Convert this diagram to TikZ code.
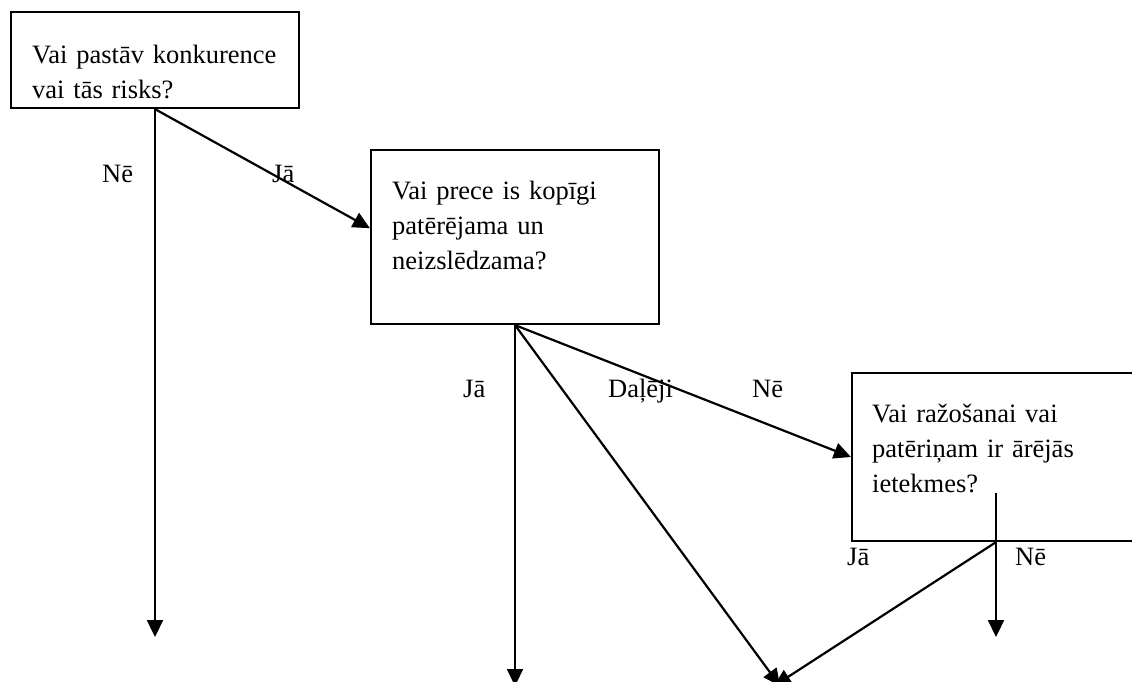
\documentclass[tikz,border=0pt]{standalone}
\usepackage{fontspec}
\setmainfont{Liberation Serif}
\usetikzlibrary{arrows.meta,calc}
\begin{document}
\begin{tikzpicture}[x=1pt,y=-1pt,
  box/.style={draw,line width=2.2pt,minimum width=288pt,inner sep=0pt},
  qtext/.style={anchor=base west,inner sep=0pt,text width=270pt,align=left,font=\fontsize{26.5}{35}\selectfont},
  lab/.style={anchor=base west,inner sep=0pt,font=\fontsize{26.5}{35}\selectfont},
  arr/.style={line width=2.2pt,-{Triangle[length=17pt,width=16pt]}},
  ln/.style={line width=2.2pt}]
\clip (0,0) rectangle (1132,681);
\fill[white] (0,0) rectangle (1132,681);
% boxes
\node[box,minimum height=96pt] (b1) at (155,60) {};
\node[box,minimum height=174pt] (b2) at (515,237) {};
\node[box,minimum height=168pt] (b3) at (996,457) {};
% texts
\node[qtext] (t1) at (32,63) {Vai pastāv konkurence\\vai tās risks?};
\node[qtext] (t2) at (392,199) {Vai prece is kopīgi\\patērējama un\\neizslēdzama?};
\node[qtext] (t3) at (872,422) {Vai ražošanai vai\\patēriņam ir ārējās\\ietekmes?};
% free ends
\coordinate (e1) at (155,637);
\coordinate (e2) at (515,686);
\coordinate (e3) at (780,686);
\coordinate (e4) at (774,686);
\coordinate (e5) at (996,637);
\coordinate (c3) at (996,493);
\coordinate (b2in) at ($(b2.north west)!0.45!(b2.south west)$);
% connectors
\draw[arr] (b1.south) -- (e1);
\draw[arr] (b1.south) -- (b2in);
\draw[arr] (b2.south) -- (e2);
\draw[arr] (b2.south) -- (e3);
\draw[arr] (b2.south) -- (b3.west);
\draw[arr] (c3) -- (e5);
\draw[arr] (b3.south) -- (e4);
% labels
\node[lab] (l1) at (102,182) {Nē};
\node[lab] (l2) at (272,182) {Jā};
\node[lab] (l3) at (463,397) {Jā};
\node[lab] (l4) at (608,397) {Daļēji};
\node[lab] (l5) at (752,397) {Nē};
\node[lab] (l6) at (847,565) {Jā};
\node[lab] (l7) at (1015,565) {Nē};
\end{tikzpicture}
\end{document}
